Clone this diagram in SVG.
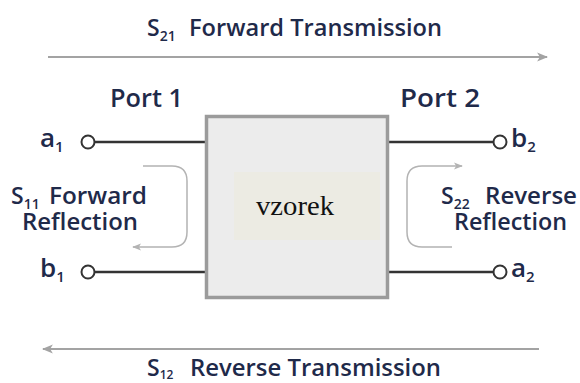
<svg xmlns="http://www.w3.org/2000/svg" width="580" height="383" viewBox="0 0 580 383">
<defs>
<style>
.t{font-family:"Open Sans","Liberation Sans",sans-serif;font-weight:600;fill:#1f2a4a;}
.sb{font-size:14px;}
.wire{stroke:#333;stroke-width:2.5;fill:none;}
.port{stroke:#333;stroke-width:2;fill:#fff;}
.arr{stroke:#a3a3a3;stroke-width:2;fill:none;}
.carr{stroke:#b3b3b3;stroke-width:1.5;fill:none;}
</style>
<marker id="ah" viewBox="0 0 10 10" refX="9" refY="5" markerWidth="11" markerHeight="11" markerUnits="userSpaceOnUse" orient="auto">
<path d="M0,1 L10,5 L0,9 L2.5,5 Z" fill="#a3a3a3"/>
</marker>
<marker id="ahs" viewBox="0 0 10 10" refX="9" refY="5" markerWidth="9" markerHeight="9" markerUnits="userSpaceOnUse" orient="auto">
<path d="M0,1 L10,5 L0,9 L2.5,5 Z" fill="#b3b3b3"/>
</marker>
</defs>
<rect width="580" height="383" fill="#fff"/>

<g id="label-s21">
<text class="t" x="147" y="36" font-size="23">S<tspan class="sb" dy="5">21</tspan><tspan x="189" dy="-5" textLength="253" lengthAdjust="spacingAndGlyphs">Forward Transmission</tspan></text>
</g>
<g id="label-s12">
<text class="t" x="147" y="376" font-size="23">S<tspan dy="3" font-size="12">12</tspan><tspan x="190" dy="-3" textLength="251" lengthAdjust="spacingAndGlyphs">Reverse Transmission</tspan></text>
</g>

<g id="port1-label"><text class="t" x="110" y="107" font-size="25" textLength="73" lengthAdjust="spacingAndGlyphs">Port 1</text></g>
<g id="port2-label"><text class="t" x="400" y="107" font-size="25" textLength="80" lengthAdjust="spacingAndGlyphs">Port 2</text></g>

<g id="connectors">
<path class="arr" d="M48,57 H547" marker-end="url(#ah)"/>
<path class="arr" d="M539,349 H43" marker-end="url(#ah)"/>
<line class="wire" x1="94.5" y1="142" x2="205" y2="142"/>
<line class="wire" x1="94.5" y1="272" x2="205" y2="272"/>
<line class="wire" x1="389" y1="142" x2="493.5" y2="142"/>
<line class="wire" x1="389" y1="272" x2="493.5" y2="272"/>
<path class="carr" d="M143,166 H172 Q187,166 187,181 V232 Q187,247 172,247 H133" marker-end="url(#ahs)"/>
<path class="carr" d="M452,247 H422 Q407,247 407,232 V181 Q407,166 422,166 H462" marker-end="url(#ahs)"/>
</g>

<g id="dut">
<rect x="206.5" y="116.5" width="181" height="181" fill="#ececec" stroke="#9b9b9b" stroke-width="3.5"/>
<rect x="234" y="172" width="146" height="68" fill="#ecebe3"/>
<text x="256" y="215" font-family="Liberation Serif,serif" font-size="28" fill="#111" textLength="78" lengthAdjust="spacingAndGlyphs">vzorek</text>
</g>

<g id="port-a1">
<circle class="port" cx="88" cy="142" r="6.5"/>
<text class="t" x="40" y="147" font-size="26">a<tspan dy="5" font-size="15">1</tspan></text>
</g>
<g id="port-b1">
<circle class="port" cx="88" cy="272" r="6.5"/>
<text class="t" x="40" y="277" font-size="26">b<tspan dy="5" font-size="15">1</tspan></text>
</g>
<g id="port-b2">
<circle class="port" cx="500" cy="142" r="6.5"/>
<text class="t" x="511" y="147" font-size="26">b<tspan dy="5" font-size="15">2</tspan></text>
</g>
<g id="port-a2">
<circle class="port" cx="500" cy="272" r="6.5"/>
<text class="t" x="511" y="277" font-size="26">a<tspan dy="5" font-size="15">2</tspan></text>
</g>

<g id="label-s11">
<text class="t" x="11" y="204" font-size="23">S<tspan class="sb" dy="5">11</tspan><tspan x="49" dy="-5" textLength="98" lengthAdjust="spacingAndGlyphs">Forward</tspan></text>
<text class="t" x="22" y="230" font-size="23" textLength="116" lengthAdjust="spacingAndGlyphs">Reflection</text>
</g>
<g id="label-s22">
<text class="t" x="441" y="204" font-size="23">S<tspan class="sb" dy="5">22</tspan><tspan x="485" dy="-5" textLength="92" lengthAdjust="spacingAndGlyphs">Reverse</tspan></text>
<text class="t" x="454" y="230" font-size="23" textLength="113" lengthAdjust="spacingAndGlyphs">Reflection</text>
</g>
</svg>
